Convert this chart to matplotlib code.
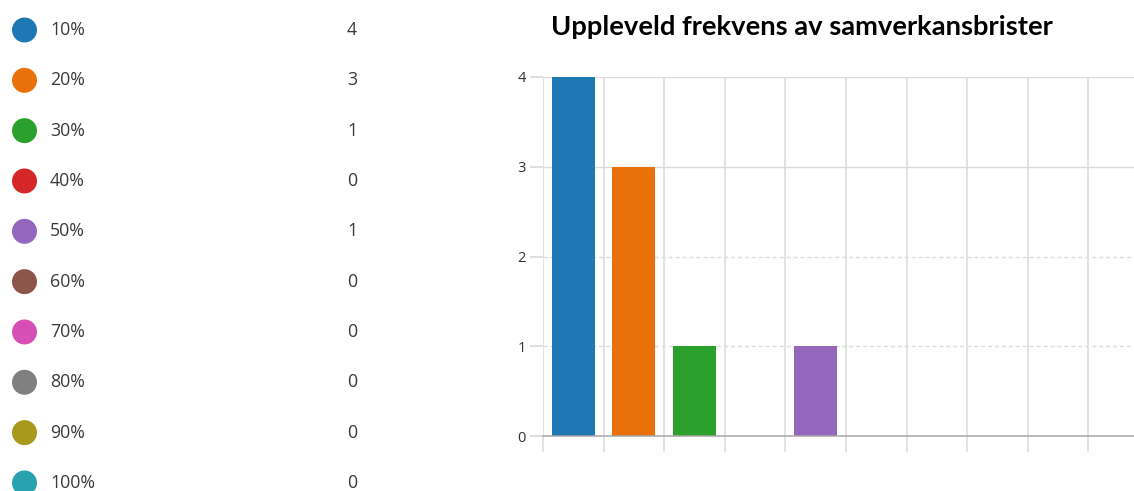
import matplotlib
matplotlib.use("Agg")
import matplotlib.pyplot as plt
import numpy as np

categories = ["10%", "20%", "30%", "40%", "50%", "60%", "70%", "80%", "90%", "100%"]
counts = [4, 3, 1, 0, 1, 0, 0, 0, 0, 0]
colors = ["#1f77b4", "#ea7109", "#2ca02c", "#d62728", "#9467bd",
          "#8c564b", "#d64fb4", "#808080", "#a8981c", "#27a2ae"]
title = "Uppleveld frekvens av samverkansbrister"
yticks = [0, 1, 2, 3, 4]

W, H = 1134, 491
DPI = 100
fig = plt.figure(figsize=(W / DPI, H / DPI), dpi=DPI)
fig.patch.set_facecolor("white")
px = 72.0 / DPI  # points per pixel

# ---------- Legend / value list ----------
axl = fig.add_axes([0, 0, 380 / W, 1])
axl.set_axis_off()
row_top, row_step = 30.0, 50.33
axl.set_xlim(0, 380)
axl.set_ylim((H - row_top) / row_step, (0 - row_top) / row_step)
rows = np.arange(len(categories))
axl.scatter(np.full(len(rows), 24.5), rows, s=(25 * px) ** 2, c=colors,
            edgecolors="none", clip_on=False)
for i, (cat, val) in enumerate(zip(categories, counts)):
    axl.text(50, i, cat, fontsize=12.8, color="#3a3a3a", va="center",
             ha="left", family="Open Sans")
    axl.text(352, i, str(val), fontsize=12.8, color="#3a3a3a", va="center",
             ha="center", family="Open Sans")

# ---------- Bar chart ----------
left_px, right_px, top_px, bottom_px = 543, 1134, 77, 436
cell = 60.6
ax = fig.add_axes([left_px / W, (H - bottom_px) / H,
                   (right_px - left_px) / W, (bottom_px - top_px) / H])
x = np.arange(len(categories))
ax.bar(x, counts, width=43 / cell, color=colors, zorder=3)

ax.set_yticks(yticks)
ax.set_yticklabels([str(v) for v in yticks], fontsize=10.5, color="#333333",
                   family="Open Sans")
ax.tick_params(axis="y", length=13 * px, width=1.2, color="#d9d9d9", pad=3)
ax.yaxis.grid(True, color="#dcdcdc", linewidth=1.0, zorder=0)
for gl, v in zip(ax.get_ygridlines(), yticks):
    if v in (1, 2):
        gl.set_linestyle((0, (3, 2)))

ax.set_xticks(np.arange(-0.5, len(categories) + 0.5, 1.0))
ax.set_xticklabels([])
ax.tick_params(axis="x", length=16 * px, width=2 * px, color="#e3e3e3")
ax.xaxis.grid(True, color="#e3e3e3", linewidth=2 * px, zorder=0)

ax.set_xlim(-0.5, -0.5 + (right_px - left_px) / cell)
ax.set_ylim(0, 4)

for s in ["top", "right", "left"]:
    ax.spines[s].set_visible(False)
ax.spines["bottom"].set_color("#a6a6a6")
ax.spines["bottom"].set_linewidth(1.5 * px)
ax.spines["bottom"].set_zorder(4)
ax.yaxis.get_major_ticks()[0].tick1line.set_color("#a6a6a6")
ax.patch.set_alpha(0)

# ---------- Title ----------
fig.text(801.5 / W, 1 - 27 / H, title, fontsize=19.7, fontweight="bold",
         family="Lato", ha="center", va="center", color="black")

fig.savefig("out.png", dpi=DPI, facecolor="white")
